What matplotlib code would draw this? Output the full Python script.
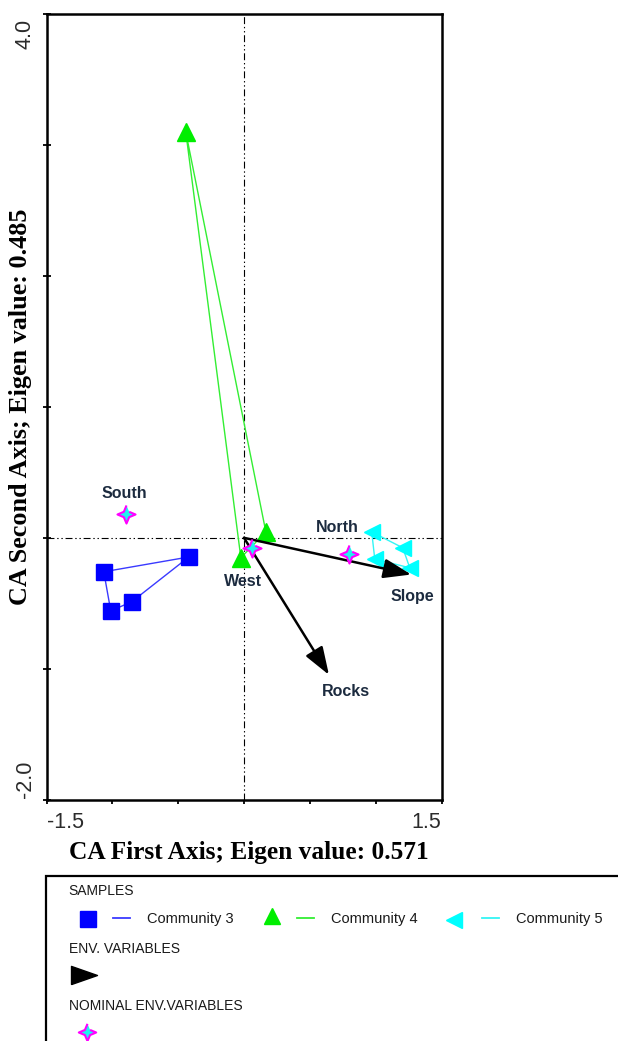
import numpy as np
import matplotlib
matplotlib.use("Agg")
import matplotlib.pyplot as plt
from matplotlib.path import Path
from matplotlib.lines import Line2D
from matplotlib.patches import Rectangle

plt.rcParams['font.family'] = ['Liberation Sans', 'DejaVu Sans']
plt.rcParams['lines.scale_dashes'] = False

# Sample scores (CA axis 1, axis 2), listed in hull order
comm3_x = [-0.419, -1.065, -1.012, -0.853]
comm3_y = [-0.146, -0.259, -0.557, -0.488]
comm4_x = [-0.442, 0.166, -0.024]
comm4_y = [3.095, 0.045, -0.152]
comm5_x = [0.970, 1.206, 1.259, 0.993]
comm5_y = [0.045, -0.076, -0.229, -0.161]

# Environmental variable arrows
env_names = ["Slope", "Rocks"]
env_x = [1.270, 0.645]
env_y = [-0.280, -1.045]

# Nominal environmental variables (centroids)
nom_names = ["South", "West", "North"]
nom_x = [-0.895, 0.060, 0.797]
nom_y = [0.180, -0.077, -0.123]

xlim = (-1.5, 1.5)
ylim = (-2.0, 4.0)

W, H = 618, 1041
fig = plt.figure(figsize=(W / 100, H / 100), dpi=100)
ax = fig.add_axes([46.5 / W, 1 - 800 / H, 395 / W, 786.5 / H])


def fx(px):
    return px / W


def fy(py):
    return 1 - py / H


# 4-pointed star marker
ang = np.arange(8) * np.pi / 4 + np.pi / 2
rad = np.where(np.arange(8) % 2 == 0, 1.0, 0.42)
star = Path(np.column_stack([rad * np.cos(ang), rad * np.sin(ang)]))
# elongated arrow-head marker for the legend
head = Path([(-1, -0.7), (1, 0), (-1, 0.7), (-1, -0.7)])

# dash-dot-dot reference lines through the origin
dd = (5, 2, 1, 2, 1, 2)
ax.axhline(0, color="black", lw=0.8, dashes=dd, zorder=1)
ax.axvline(0, color="black", lw=0.8, dashes=dd, zorder=1)

groups = [
    (comm3_x, comm3_y, "s", 12, "#0000ff", "#3a3aff"),
    (comm4_x, comm4_y, "^", 13.5, "#00ee00", "#33ee33"),
    (comm5_x, comm5_y, "<", 12, "#00ffff", "#33f5f5"),
]
for xs, ys, mk, ms, mc, lc in groups:
    ax.plot(xs + xs[:1], ys + ys[:1], color=lc, lw=1.0, zorder=2)
    ax.plot(xs, ys, ls="none", marker=mk, ms=ms, color=mc, mec=mc, zorder=3)

# environmental arrows
env_offsets = [(1, -16), (12, -12)]
for name, ex, ey, off in zip(env_names, env_x, env_y, env_offsets):
    ax.annotate("", xy=(ex, ey), xytext=(0, 0),
                arrowprops=dict(arrowstyle="-|>,head_length=0.85,head_width=0.3",
                                color="black", lw=1.8, mutation_scale=20,
                                shrinkA=0, shrinkB=0), zorder=4)
    ax.annotate(name, xy=(ex, ey), xytext=off, textcoords="offset points",
                ha="center", va="center", fontsize=11.5, fontweight="bold",
                color="#1c2b3f", zorder=6)

# nominal variables
nom_offsets = [(-1.5, 15), (-6.5, -24), (-8.5, 19)]
ax.plot(nom_x, nom_y, ls="none", marker=star, ms=13, mfc="#22f0f0",
        mec="#ff00ff", mew=1.5, zorder=5)
for name, nx, ny, off in zip(nom_names, nom_x, nom_y, nom_offsets):
    ax.annotate(name, xy=(nx, ny), xytext=off, textcoords="offset points",
                ha="center", va="center", fontsize=11.5, fontweight="bold",
                color="#1c2b3f", zorder=6)

ax.set_xlim(*xlim)
ax.set_ylim(*ylim)
for sp in ax.spines.values():
    sp.set_linewidth(1.8)

xt = np.arange(-1.5, 1.51, 0.5)
ax.set_xticks(xt)
ax.set_xticklabels(["-1.5", "", "", "", "", "", "1.5"])
ax.tick_params(axis="x", direction="out", length=3, width=1.3, pad=6,
               labelsize=15.5, labelcolor="#2b2b2b")
labs = ax.get_xticklabels()
labs[0].set_ha("left")
labs[-1].set_ha("right")

ax.set_yticks(np.arange(-2, 4.1, 1.0))
ax.set_yticklabels([])
ax.tick_params(axis="y", direction="inout", length=6, width=1.3)
ax.text(-0.0544, 0.993, "4.0", transform=ax.transAxes, rotation=90,
        ha="center", va="top", fontsize=15.5, color="#2b2b2b")
ax.text(-0.0544, 0.003, "-2.0", transform=ax.transAxes, rotation=90,
        ha="center", va="bottom", fontsize=15.5, color="#2b2b2b")

fig.text(fx(249), fy(852), "CA First Axis; Eigen value: 0.571",
         family="Liberation Serif", fontweight="bold", fontsize=18.3,
         ha="center", va="center")
fig.text(fx(21), fy(407), "CA Second Axis; Eigen value: 0.485",
         family="Liberation Serif", fontweight="bold", fontsize=18.8,
         ha="center", va="center", rotation=90)

# legend panel
fig.add_artist(Rectangle((fx(45.5), fy(1060)), fx(640 - 45.5), fy(876) - fy(1060),
                         transform=fig.transFigure, fill=False, lw=1.6,
                         edgecolor="black"))
lt = dict(fontsize=10, ha="left", va="center", color="#1a1a1a")
fig.text(fx(68), fy(891), "SAMPLES", **lt)
fig.text(fx(69), fy(949), "ENV. VARIABLES", **lt)
fig.text(fx(69), fy(1006), "NOMINAL ENV.VARIABLES", **lt)

leg_items = [
    ("Community 3", 88, 919, 113, 147),
    ("Community 4", 272, 916, 297, 331),
    ("Community 5", 454, 920, 482, 516),
]
leg_ms = [12, 11, 11]
for (xs, ys, mk, ms, mc, lc), (name, mx, my, lx, tx), lms in zip(groups, leg_items, leg_ms):
    fig.add_artist(Line2D([fx(mx)], [fy(my)], marker=mk, ms=lms, color=mc,
                          ls="none", transform=fig.transFigure))
    fig.add_artist(Line2D([fx(lx), fx(lx + 17)], [fy(918), fy(918)], color=lc,
                          lw=1.3, transform=fig.transFigure))
    fig.text(fx(tx), fy(919), name, fontsize=10.5, ha="left", va="center",
             color="#1a1a1a")

fig.add_artist(Line2D([fx(84)], [fy(975)], marker=head, ms=18.7, color="black",
                      ls="none", transform=fig.transFigure))
fig.add_artist(Line2D([fx(87)], [fy(1032)], marker=star, ms=12.5, mfc="#22f0f0",
                      mec="#ff00ff", mew=1.5, ls="none",
                      transform=fig.transFigure))

fig.savefig("out.png", dpi=100)
